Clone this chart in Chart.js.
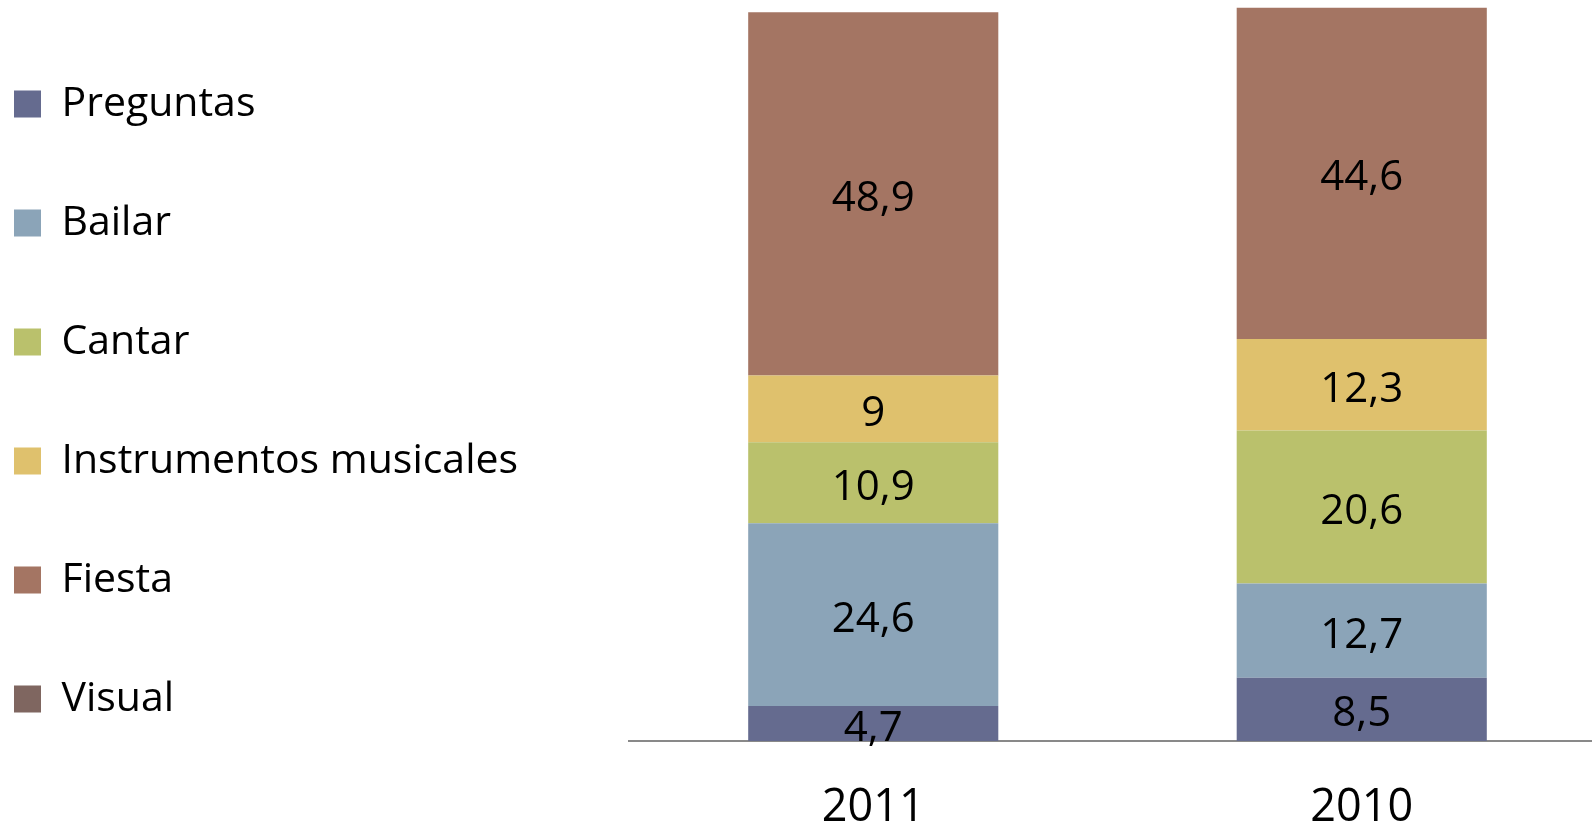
<!DOCTYPE html>
<html>
<head>
<meta charset="utf-8">
<script src="https://cdn.jsdelivr.net/npm/chart.js@4/dist/chart.umd.min.js"></script>
<style>
  html, body { margin: 0; padding: 0; width: 1592px; height: 821px; overflow: hidden; background: #fff; }
  #grafico { position: absolute; left: -64px; top: 0; }
</style>
</head>
<body>
<canvas id="grafico" width="1670" height="875"></canvas>
<script>
// categorías y series
const anios = ["2011", "2010"];
const preguntas = [4.7, 8.5];
const bailar = [24.6, 12.7];
const cantar = [10.9, 20.6];
const instrumentos = [9, 12.3];
const fiesta = [48.9, 44.6];
const visual = [null, null];

const fuente = "'Open Sans', 'DejaVu Sans', sans-serif";

// etiquetas con el valor en el centro de cada tramo
const etiquetasValor = {
  id: "etiquetasValor",
  afterDatasetsDraw(chart) {
    const ctx = chart.ctx;
    ctx.save();
    ctx.font = "42px " + fuente;
    ctx.fillStyle = "#000";
    ctx.textAlign = "center";
    ctx.textBaseline = "middle";
    chart.data.datasets.forEach((ds, i) => {
      chart.getDatasetMeta(i).data.forEach((bar, j) => {
        const v = ds.data[j];
        if (v == null) return;
        const { x, y, base } = bar.getProps(["x", "y", "base"], true);
        // +5: Open Sans queda algo alta con baseline "middle"
        ctx.fillText(String(v).replace(".", ","), x, (y + base) / 2 + 5);
      });
    });
    ctx.restore();
  }
};

new Chart(document.getElementById("grafico"), {
  type: "bar",
  data: {
    labels: anios,
    datasets: [
      { label: "Preguntas", data: preguntas, backgroundColor: "#656b8f" },
      { label: "Bailar", data: bailar, backgroundColor: "#8ba4b8" },
      { label: "Cantar", data: cantar, backgroundColor: "#bac16c" },
      { label: "Instrumentos musicales", data: instrumentos, backgroundColor: "#dfc16d" },
      { label: "Fiesta", data: fiesta, backgroundColor: "#a47563" },
      { label: "Visual", data: visual, backgroundColor: "#7f6660" }
    ]
  },
  options: {
    responsive: false,
    animation: false,
    categoryPercentage: 1,
    barPercentage: 0.512,
    layout: { padding: { top: 5.5, left: 0, right: 0, bottom: 0 } },
    plugins: {
      tooltip: { enabled: false },
      legend: {
        position: "left",
        align: "start",
        maxWidth: 1000, // sin esto la leyenda se recorta a un cuarto del ancho
        labels: {
          boxWidth: 27,
          boxHeight: 27,
          padding: 78,
          color: "#000",
          font: { family: fuente, size: 41 }
        }
      }
    },
    scales: {
      x: {
        stacked: true,
        grid: { display: false, drawTicks: false },
        border: { display: true, color: "#898989", width: 2 },
        ticks: { color: "#000", padding: 40, font: { family: fuente, size: 45 } }
      },
      y: {
        stacked: true,
        min: 0,
        max: 99,
        grid: { display: false, drawTicks: false },
        border: { display: false },
        ticks: { display: false },
        // el área de barras empieza siempre en el mismo sitio, sea cual sea el ancho de la leyenda
        afterFit(escala) {
          const leyenda = escala.chart.legend;
          escala.width = Math.max(0, 693 - (leyenda ? leyenda.width : 580));
        }
      }
    }
  },
  plugins: [etiquetasValor]
});
</script>
</body>
</html>
